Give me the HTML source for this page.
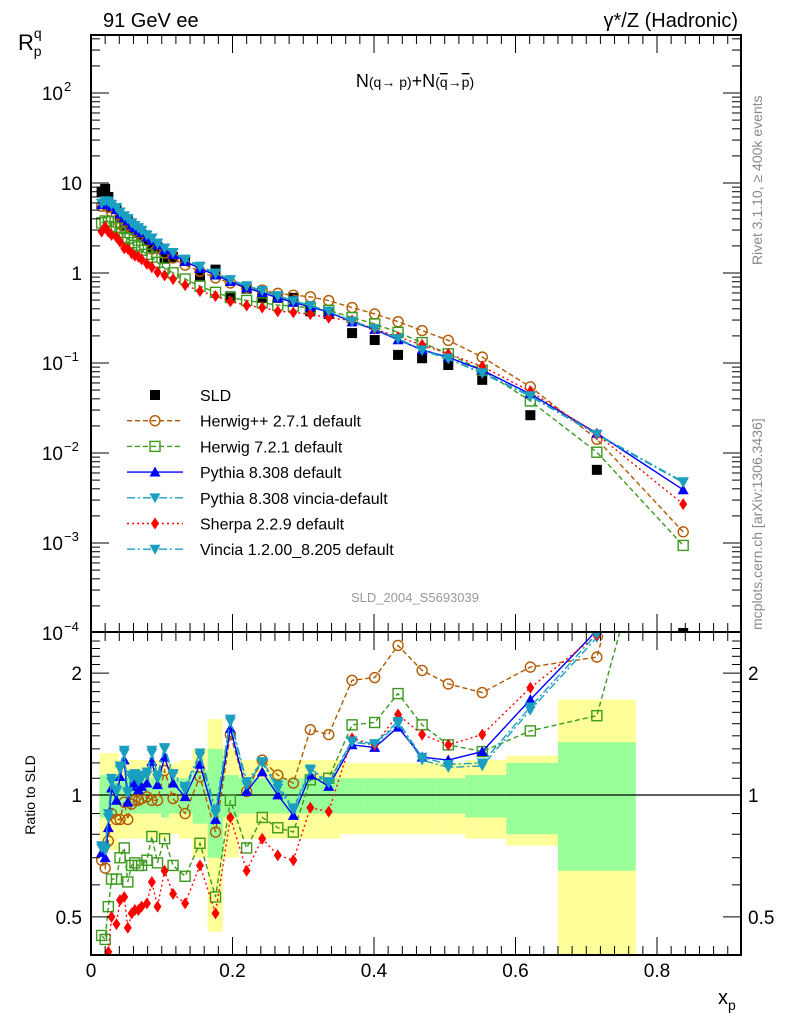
<!DOCTYPE html>
<html><head><meta charset="utf-8"><style>
body{margin:0;background:#fff}
svg text{font-family:"Liberation Sans",sans-serif}
</style></head><body>
<svg id="c" width="786" height="1024" xmlns="http://www.w3.org/2000/svg">
<defs>
<clipPath id="cm"><rect x="91" y="35" width="650" height="597"/></clipPath>
<clipPath id="cr"><rect x="91" y="632" width="650" height="323"/></clipPath>
</defs>
<g id="bands" clip-path="url(#cr)"></g>
<g id="ratio" clip-path="url(#cr)"></g>
<g id="main" clip-path="url(#cm)"></g>
<g id="axes"></g>
<text x="103" y="27" font-size="20">91 GeV ee</text>
<text x="738" y="27" font-size="20" text-anchor="end">γ*/Z (Hadronic)</text>
<text x="415" y="87" font-size="18" text-anchor="middle">N<tspan font-size="14">(q→ p)</tspan>+N<tspan font-size="14">(<tspan text-decoration="overline">q</tspan>→<tspan text-decoration="overline">p</tspan>)</tspan></text>
<text x="415" y="602" font-size="13" fill="#999" text-anchor="middle">SLD_2004_S5693039</text>
<text transform="translate(762,265) rotate(-90)" font-size="14" fill="#888">Rivet 3.1.10, ≥ 400k events</text>
<text transform="translate(762,630) rotate(-90)" font-size="14" fill="#888">mcplots.cern.ch [arXiv:1306.3436]</text>
<text x="18" y="50" font-size="22">R<tspan font-size="14" dy="-12" dx="0">q</tspan><tspan font-size="14" dy="18" dx="-8">p</tspan></text>
<text transform="translate(35,795) rotate(-90)" font-size="14" text-anchor="middle">Ratio to SLD</text>
<text x="718" y="1004" font-size="20">x<tspan font-size="14" dy="6">p</tspan></text>
</svg>
<script>
const xs=[0.015,0.020,0.0245,0.029,0.036,0.041,0.047,0.052,0.0575,0.062,0.067,0.0715,0.079,0.086,0.094,0.104,0.116,0.133,0.154,0.176,0.197,0.22,0.242,0.264,0.286,0.31,0.336,0.369,0.401,0.434,0.468,0.505,0.553,0.621,0.715,0.837];
const sld=[8.0,8.6,7.0,5.3,5.2,4.05,3.36,3.96,3.24,2.99,2.91,2.67,2.34,1.90,1.93,1.45,1.50,1.36,0.94,1.09,0.55,0.67,0.53,0.53,0.53,0.375,0.35,0.215,0.18,0.123,0.113,0.095,0.065,0.0263,0.0065,0.0001];
const totErr=[0.27,0.27,0.27,0.27,0.27,0.22,0.22,0.22,0.22,0.22,0.22,0.22,0.22,0.22,0.22,0.22,0.2,0.22,0.3,0.54,0.3,0.22,0.22,0.22,0.22,0.22,0.22,0.2,0.2,0.2,0.2,0.2,0.22,0.25,0.72,0];
const statErr=[0.12,0.12,0.12,0.12,0.12,0.1,0.1,0.1,0.1,0.1,0.1,0.1,0.1,0.1,0.1,0.12,0.1,0.1,0.15,0.3,0.12,0.1,0.1,0.1,0.1,0.1,0.1,0.1,0.1,0.1,0.1,0.1,0.12,0.2,0.35,0];
const rHerwigPP=[0.69,0.66,0.77,0.90,0.87,0.87,0.96,0.87,0.95,0.97,0.97,0.98,0.99,0.97,0.97,1.15,0.98,0.90,1.11,0.81,1.41,1.02,1.22,1.12,1.07,1.45,1.41,1.92,1.95,2.34,2.03,1.88,1.79,2.07,2.19,13.3];
const rHerwig7=[0.45,0.44,0.53,0.62,0.62,0.70,0.74,0.61,0.67,0.68,0.67,0.67,0.69,0.79,0.68,0.78,0.67,0.63,0.76,0.56,0.97,0.74,0.88,0.83,0.81,1.09,1.10,1.49,1.51,1.78,1.49,1.33,1.28,1.44,1.57,9.4];
const rPythia=[0.72,0.70,0.83,1.04,0.97,1.11,1.22,0.96,1.05,1.07,1.03,1.05,1.07,1.21,1.06,1.24,1.07,0.99,1.19,0.87,1.46,1.02,1.14,1.00,0.89,1.12,1.05,1.33,1.31,1.47,1.24,1.22,1.28,1.72,2.55,39];
const rVinciaDef=[0.74,0.73,0.88,1.08,1.02,1.16,1.27,1.01,1.10,1.12,1.08,1.10,1.12,1.27,1.10,1.30,1.12,1.03,1.25,0.90,1.52,1.06,1.20,1.04,0.92,1.15,1.07,1.35,1.33,1.50,1.22,1.17,1.18,1.62,2.45,47];
const rVincia12=[0.75,0.74,0.90,1.10,1.03,1.18,1.29,1.02,1.12,1.13,1.10,1.12,1.14,1.29,1.12,1.31,1.13,1.05,1.27,0.92,1.54,1.08,1.21,1.06,0.93,1.16,1.08,1.36,1.34,1.52,1.24,1.19,1.20,1.65,2.5,48];
const rSherpa=[0.36,0.38,0.41,0.50,0.48,0.55,0.56,0.47,0.51,0.52,0.52,0.53,0.54,0.61,0.53,0.65,0.57,0.54,0.67,0.51,0.88,0.65,0.78,0.71,0.69,0.93,0.91,1.38,1.33,1.58,1.41,1.33,1.41,1.84,2.48,27];
const xTicks=[0,0.2,0.4,0.6,0.8];
const ratioTicks=[0.5,1,2];

const NS="http://www.w3.org/2000/svg";
const X=v=>91+v*707.5;
const Ym=v=>273-90*Math.log10(v);
const Yr=v=>795-405*Math.log10(v);
function el(tag,attrs,parent){const e=document.createElementNS(NS,tag);for(const k in attrs)e.setAttribute(k,attrs[k]);parent.appendChild(e);return e;}
const gB=document.getElementById('bands'),gR=document.getElementById('ratio'),gM=document.getElementById('main'),gA=document.getElementById('axes');
const edges=[0.012];
for(let i=0;i<xs.length-1;i++)edges.push((xs[i]+xs[i+1])/2);
edges[34]=0.66;edges[35]=0.77;
for(let i=0;i<xs.length-1;i++){
  const x0=X(edges[i]),x1=X(edges[i+1]);
  const y=el('rect',{x:x0,y:Yr(1+totErr[i]),width:x1-x0,height:Yr(Math.max(1-totErr[i],0.2))-Yr(1+totErr[i]),fill:'#ffff99'},gB);
  
  
}
for(let i=0;i<xs.length-1;i++){
  const x0=X(edges[i]),x1=X(edges[i+1]);
  const g=el('rect',{x:x0,y:Yr(1+statErr[i]),width:x1-x0,height:Yr(1-statErr[i])-Yr(1+statErr[i]),fill:'#99ff99'},gB);
  
  
}
const l1=el('line',{x1:91,x2:741,y1:Yr(1),y2:Yr(1),stroke:'#000','stroke-width':1.2},gR);



function marker(g,type,cx,cy,col){
  let m;
  const s=5.5;
  if(type==='circle')m=el('circle',{cx,cy,r:5,fill:'none',stroke:col,'stroke-width':1.4},g);
  else if(type==='osq')m=el('rect',{x:cx-5,y:cy-5,width:10,height:10,fill:'none',stroke:col,'stroke-width':1.4},g);
  else if(type==='sq')m=el('rect',{x:cx-5,y:cy-5,width:10,height:10,fill:col},g);
  else if(type==='up')m=el('polygon',{points:`${cx},${cy-s} ${cx-s},${cy+s*0.8} ${cx+s},${cy+s*0.8}`,fill:col},g);
  else if(type==='down')m=el('polygon',{points:`${cx},${cy+s} ${cx-s},${cy-s*0.8} ${cx+s},${cy-s*0.8}`,fill:col},g);
  else m=el('polygon',{points:`${cx},${cy-6} ${cx-4},${cy} ${cx},${cy+6} ${cx+4},${cy}`,fill:col},g);
  return m;
}
const series=[
 {name:'herwigpp',r:rHerwigPP,col:'#b35a00',dash:'5,3',mk:'circle',label:'Herwig++ 2.7.1 default'},
 {name:'herwig7',r:rHerwig7,col:'#3c9a1c',dash:'5,3',mk:'osq',label:'Herwig 7.2.1 default'},
 {name:'pythia',r:rPythia,col:'#0000ff',dash:'',mk:'up',label:'Pythia 8.308 default'},
 {name:'pythia-vincia',r:rVinciaDef,col:'#1a9fc0',dash:'8,3,2,3',mk:'down',label:'Pythia 8.308 vincia-default'},
 {name:'sherpa',r:rSherpa,col:'#ff0000',dash:'2,3',mk:'diamond',label:'Sherpa 2.2.9 default'},
 {name:'vincia',r:rVincia12,col:'#1a9fc0',dash:'8,3,2,3',mk:'down',label:'Vincia 1.2.00_8.205 default'}
];
xs.forEach((x,i)=>{const m=marker(gM,'sq',X(x),Ym(sld[i]),'#000');

});
series.forEach(s=>{
  const mp=xs.map((x,i)=>X(x)+','+Ym(sld[i]*s.r[i])).join(' ');
  const pl=el('polyline',{points:mp,fill:'none',stroke:s.col,'stroke-width':1.4,'stroke-dasharray':s.dash},gM);
  
  
  xs.forEach((x,i)=>{const m=marker(gM,s.mk,X(x),Ym(sld[i]*s.r[i]),s.col);
  
  });
  const rp=xs.map((x,i)=>X(x)+','+Yr(s.r[i])).join(' ');
  const rl=el('polyline',{points:rp,fill:'none',stroke:s.col,'stroke-width':1.4,'stroke-dasharray':s.dash},gR);
  
  
  xs.forEach((x,i)=>{const m=marker(gR,s.mk,X(x),Yr(s.r[i]),s.col);
  
  });
});
const lg=el('g',{},gA);


const ly0=395,dy=25.7;
marker(lg,'sq',155,ly0,'#000');
const lt=el('text',{x:200,y:ly0+6,'font-size':16},lg);lt.textContent='SLD';
series.forEach((s,i)=>{
  const y=ly0+dy*(i+1);
  const en=el('g',{},lg);
  
  
  el('line',{x1:127,x2:183,y1:y,y2:y,stroke:s.col,'stroke-width':1.4,'stroke-dasharray':s.dash},en);
  marker(en,s.mk,155,y,s.col);
  const t=el('text',{x:200,y:y+6,'font-size':16},en);t.textContent=s.label;
});
[[35,632],[632,955]].forEach(([a,b],k)=>{const r=el('rect',{x:91,y:a,width:650,height:b-a,fill:'none',stroke:'#000','stroke-width':2},gA);

});
for(let d=-4;d<=2;d++){
  for(let m=1;m<10;m++){const v=m*Math.pow(10,d);const y=Ym(v);if(y<35||y>632)continue;
    const L=m===1?18:9;
    el('line',{x1:91,x2:91+L,y1:y,y2:y,stroke:'#000','stroke-width':1},gA);
    el('line',{x1:741,x2:741-L,y1:y,y2:y,stroke:'#000','stroke-width':1},gA);}
}
const mlab=[[2,'10','2'],[1,'10',''],[0,'1',''],[-1,'10','−1'],[-2,'10','−2'],[-3,'10','−3'],[-4,'10','−4']];
mlab.forEach(([d,b,e])=>{const t=el('text',{x:e?63:82,y:Ym(Math.pow(10,d))+7,'font-size':19,'text-anchor':'end'},gA);


if(e){t.textContent=b;const s=el('tspan',{'font-size':13,dy:-9,x:64,'text-anchor':'start'},t);s.textContent=e;}else t.textContent=b;});
for(let v=0.4;v<=2.5;v+=0.1){const y=Yr(v);if(y<632||y>955)continue;
  const major=Math.abs(v-0.5)<1e-6||Math.abs(v-1)<1e-6||Math.abs(v-2)<1e-6;const L=major?18:9;
  el('line',{x1:91,x2:91+L,y1:y,y2:y,stroke:'#000','stroke-width':1},gA);
  el('line',{x1:741,x2:741-L,y1:y,y2:y,stroke:'#000','stroke-width':1},gA);}
ratioTicks.forEach(v=>{
  const t=el('text',{x:82,y:Yr(v)+7,'font-size':19,'text-anchor':'end'},gA);t.textContent=String(v);
  
  
  const t2=el('text',{x:748,y:Yr(v)+7,'font-size':19},gA);t2.textContent=String(v);
  
  
});
for(let i=0;i<=45;i++){const v=i*0.02;const x=X(v);if(x>741)break;const major=i%10===0;const L=major?18:9;
  [632,955].forEach(yb=>{el('line',{x1:x,x2:x,y1:yb,y2:yb-L,stroke:'#000','stroke-width':1},gA);});
  [35,632].forEach(yt=>{el('line',{x1:x,x2:x,y1:yt,y2:yt+L,stroke:'#000','stroke-width':1},gA);});
}
xTicks.forEach(v=>{const t=el('text',{x:X(v),y:977,'font-size':19,'text-anchor':'middle'},gA);t.textContent=String(v);

});
</script>
</body></html>
